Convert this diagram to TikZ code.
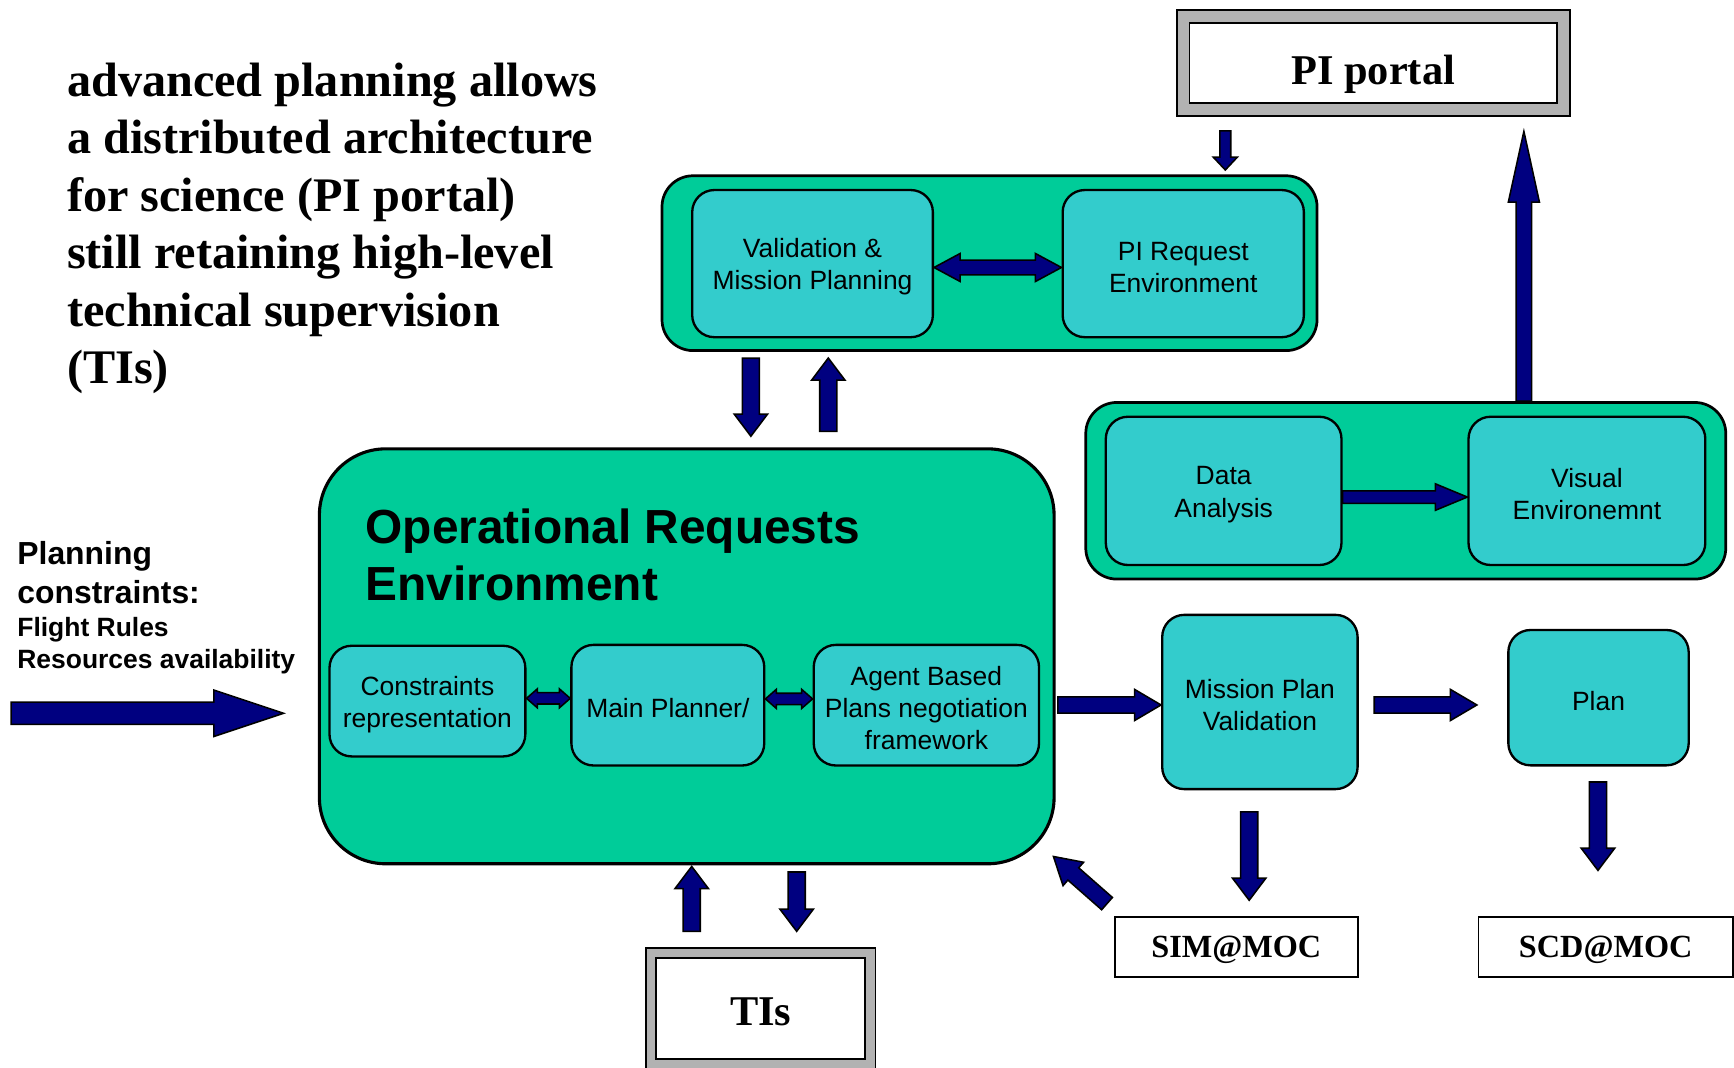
\documentclass[tikz,border=0pt]{standalone}
\usepackage{fontspec}
\setmainfont{Liberation Serif}
\setsansfont{Liberation Sans}
\usetikzlibrary{calc}

\definecolor{grpgreen}{HTML}{00CC99}
\definecolor{boxteal}{HTML}{33CCCC}
\definecolor{arrnavy}{HTML}{000080}
\definecolor{framegrey}{HTML}{B2B2B2}

\newcommand{\firstline}{\rule{0pt}{6.6pt}}

\tikzset{
  grp/.style={draw=black, line width=0.7pt, fill=grpgreen, rounded corners=0.28cm, inner sep=0pt},
  sub/.style={draw=black, line width=0.6pt, fill=boxteal, rounded corners=0.2cm, inner sep=0pt,
    align=center, font=\sffamily\fontsize{6.8}{8.25}\selectfont},
  outbox/.style={draw=black, line width=0.5pt, fill=white, inner sep=0pt, text depth=0pt,
    font=\bfseries\fontsize{8.3}{10}\selectfont},
  framed/.style={draw=black, line width=0.45pt, double=framegrey, fill=white, inner sep=0pt,
    font=\bfseries\fontsize{10.9}{13}\selectfont},
  blk/.style n args={3}{fill=arrnavy, draw=black, line width=0.4pt,
    to path={let \p1=(\tikztostart), \p2=(\tikztotarget), \p3=($(\p2)!#3!(\p1)$) in
      ($(\p1)!#1!90:(\p2)$) -- ($(\p3)!#1!90:(\p2)$) -- ($(\p3)!#2!90:(\p2)$) -- (\p2)
      -- ($(\p3)!#2!-90:(\p2)$) -- ($(\p3)!#1!-90:(\p2)$) -- ($(\p1)!#1!-90:(\p2)$) -- cycle}},
  dblk/.style n args={3}{fill=arrnavy, draw=black, line width=0.4pt,
    to path={let \p1=(\tikztostart), \p2=(\tikztotarget), \p3=($(\p1)!#3!(\p2)$), \p4=($(\p2)!#3!(\p1)$) in
      (\p1) -- ($(\p3)!#2!90:(\p2)$) -- ($(\p3)!#1!90:(\p2)$) -- ($(\p4)!#1!90:(\p2)$)
      -- ($(\p4)!#2!90:(\p2)$) -- (\p2) -- ($(\p4)!#2!-90:(\p2)$) -- ($(\p4)!#1!-90:(\p2)$)
      -- ($(\p3)!#1!-90:(\p2)$) -- ($(\p3)!#2!-90:(\p2)$) -- cycle}},
  bigarrow/.style={blk={2.85pt}{5.97pt}{17.9pt}},
  flowarrow/.style={blk={2.1pt}{4pt}{6.8pt}},
  linkarrow/.style={blk={2.2pt}{4.3pt}{5.7pt}},
  portarrow/.style={blk={2pt}{4pt}{18.2pt}},
  tinyarrow/.style={blk={1.4pt}{3.1pt}{3.3pt}},
  pairarrow/.style={dblk={1.9pt}{3.6pt}{6.7pt}},
  smallpair/.style={dblk={1.45pt}{2.45pt}{2.8pt}},
}

\begin{document}
\begin{tikzpicture}[x=0.01cm,y=-0.01cm]
\useasboundingbox (0,0) rectangle (1568,965);
% Remarks on the left.
\node[anchor=north west, inner sep=0pt, align=left, font=\bfseries\fontsize{12.4}{14.8}\selectfont] (intro) at (60,56)
  {advanced planning allows\\a distributed architecture\\for science (PI portal)\\still retaining high-level\\technical supervision\\(TIs)};
\node[anchor=north west, inner sep=0pt, align=left, font=\sffamily\bfseries\fontsize{8.2}{10}\selectfont] (pc) at (15,489)
  {Planning\\constraints:};
\node[anchor=north west, inner sep=0pt, align=left, font=\sffamily\bfseries\fontsize{6.8}{8.2}\selectfont] (fr) at (15,558)
  {Flight Rules\\Resources availability};
\coordinate (inflow) at (10,645);
% Operational requests environment and its three parts.
\node[grp, rounded corners=0.6cm, line width=0.8pt, minimum width=6.64cm, minimum height=3.75cm] (ore) at (621,593.5) {};
\node[anchor=north west, inner sep=0pt, align=left, font=\sffamily\bfseries\fontsize{12.3}{14.8}\selectfont] (oretitle) at (330,459)
  {Operational Requests\\Environment};
\node[sub, minimum width=1.77cm, minimum height=1cm] (cr) at (386.5,634) {\firstline Constraints\\representation};
\node[sub, minimum width=1.743cm, minimum height=1.09cm] (mp) at (603.9,637.7) {\firstline Main Planner/};
\node[sub, minimum width=2.036cm, minimum height=1.09cm] (ab) at (837.7,637.7) {\firstline Agent Based\\Plans negotiation\\framework};
% Request side (top).
\node[grp, minimum width=5.92cm, minimum height=1.58cm] (req) at (894.8,238) {};
\node[sub, minimum width=2.175cm, minimum height=1.33cm] (vmp) at (734.75,238.4) {\firstline Validation \&\\Mission Planning};
\node[sub, minimum width=2.18cm, minimum height=1.33cm] (pire) at (1070,238.4) {\firstline PI Request\\Environment};
\node[framed, double distance=0.1cm, minimum width=3.435cm, minimum height=0.84cm,
  text height=0.39cm, text depth=0pt] (pip) at (1241.75,57) {PI portal};
% Analysis side (right).
\node[grp, minimum width=5.784cm, minimum height=1.596cm] (ana) at (1271.2,443.8) {};
\node[sub, minimum width=2.13cm, minimum height=1.34cm] (da) at (1106.5,443.9) {\firstline Data\\Analysis};
\node[sub, minimum width=2.14cm, minimum height=1.34cm] (ve) at (1435,443.9) {\firstline Visual\\Environemnt};
\node[sub, minimum width=1.766cm, minimum height=1.575cm] (mpv) at (1139.3,634.8) {\firstline Mission Plan\\Validation};
\node[sub, minimum width=1.63cm, minimum height=1.223cm] (plan) at (1445.5,630.9) {\firstline Plan};
\node[outbox, minimum width=2.2cm, minimum height=0.546cm] (sim) at (1118,856.3) {SIM@MOC};
\node[outbox, minimum width=2.3cm, minimum height=0.546cm] (scd) at (1452,856.3) {SCD@MOC};
\node[framed, double distance=0.075cm, minimum width=1.98cm, minimum height=1cm,
  text height=0.31cm, text depth=0pt] (tis) at (688,912) {TIs};
% Block arrows.
\draw[bigarrow] (inflow) to ($(ore.west)+(-31,51.5)$);
\draw[pairarrow] ($(vmp.east)+(0,3.5)$) to ($(pire.west)+(0,3.5)$);
\draw[smallpair] ($(cr.east)+(0,-2.5)$) to ($(mp.west |- cr.east)+(0,-2.5)$);
\draw[smallpair] ($(mp.east)+(0,-5.7)$) to ($(ab.west)+(0,-5.7)$);
\draw[linkarrow] ($(req.south)+(-215.8,5.5)$) to ($(ore.north)+(58,-10)$);
\draw[linkarrow] ($(ore.north)+(128,-14.4)$) to ($(req.south)+(-145.8,5.5)$);
\draw[linkarrow] ($(tis.north)+(-62.5,-19)$) to ($(ore.south)+(4.5,1)$);
\draw[linkarrow] ($(ore.south)+(99.4,6)$) to ($(tis.north)+(32.4,-19)$);
\draw[tinyarrow] ($(pip.south)+(-133.75,18.5)$) to ($(req.north)+(213.2,-4)$);
\draw[portarrow] ($(ana.north)+(106.8,0)$) to ($(pip.south)+(136.25,19)$);
\draw[blk={1.6pt}{3.4pt}{8.2pt}] ($(da.east)+(0,5.6)$) to ($(ve.west)+(0,5.6)$);
\draw[flowarrow] ($(ore.east |- mpv.west)+(2,2.7)$) to ($(mpv.west)+(0,2.7)$);
\draw[flowarrow] ($(mpv.east)+(14,2.7)$) to ($(plan.west |- mpv.east)+(-27.4,2.7)$);
\draw[linkarrow] ($(mpv.south)+(-9.7,19.5)$) to ($(sim.north)+(11.6,-14)$);
\draw[linkarrow] ($(plan.south)+(-0.5,14)$) to ($(scd.north)+(-7,-41)$);
\draw[flowarrow] ($(sim.north west)+(-6,-11)$) to ($(ore.south east)+(-2,-8)$);
\end{tikzpicture}
\end{document}
